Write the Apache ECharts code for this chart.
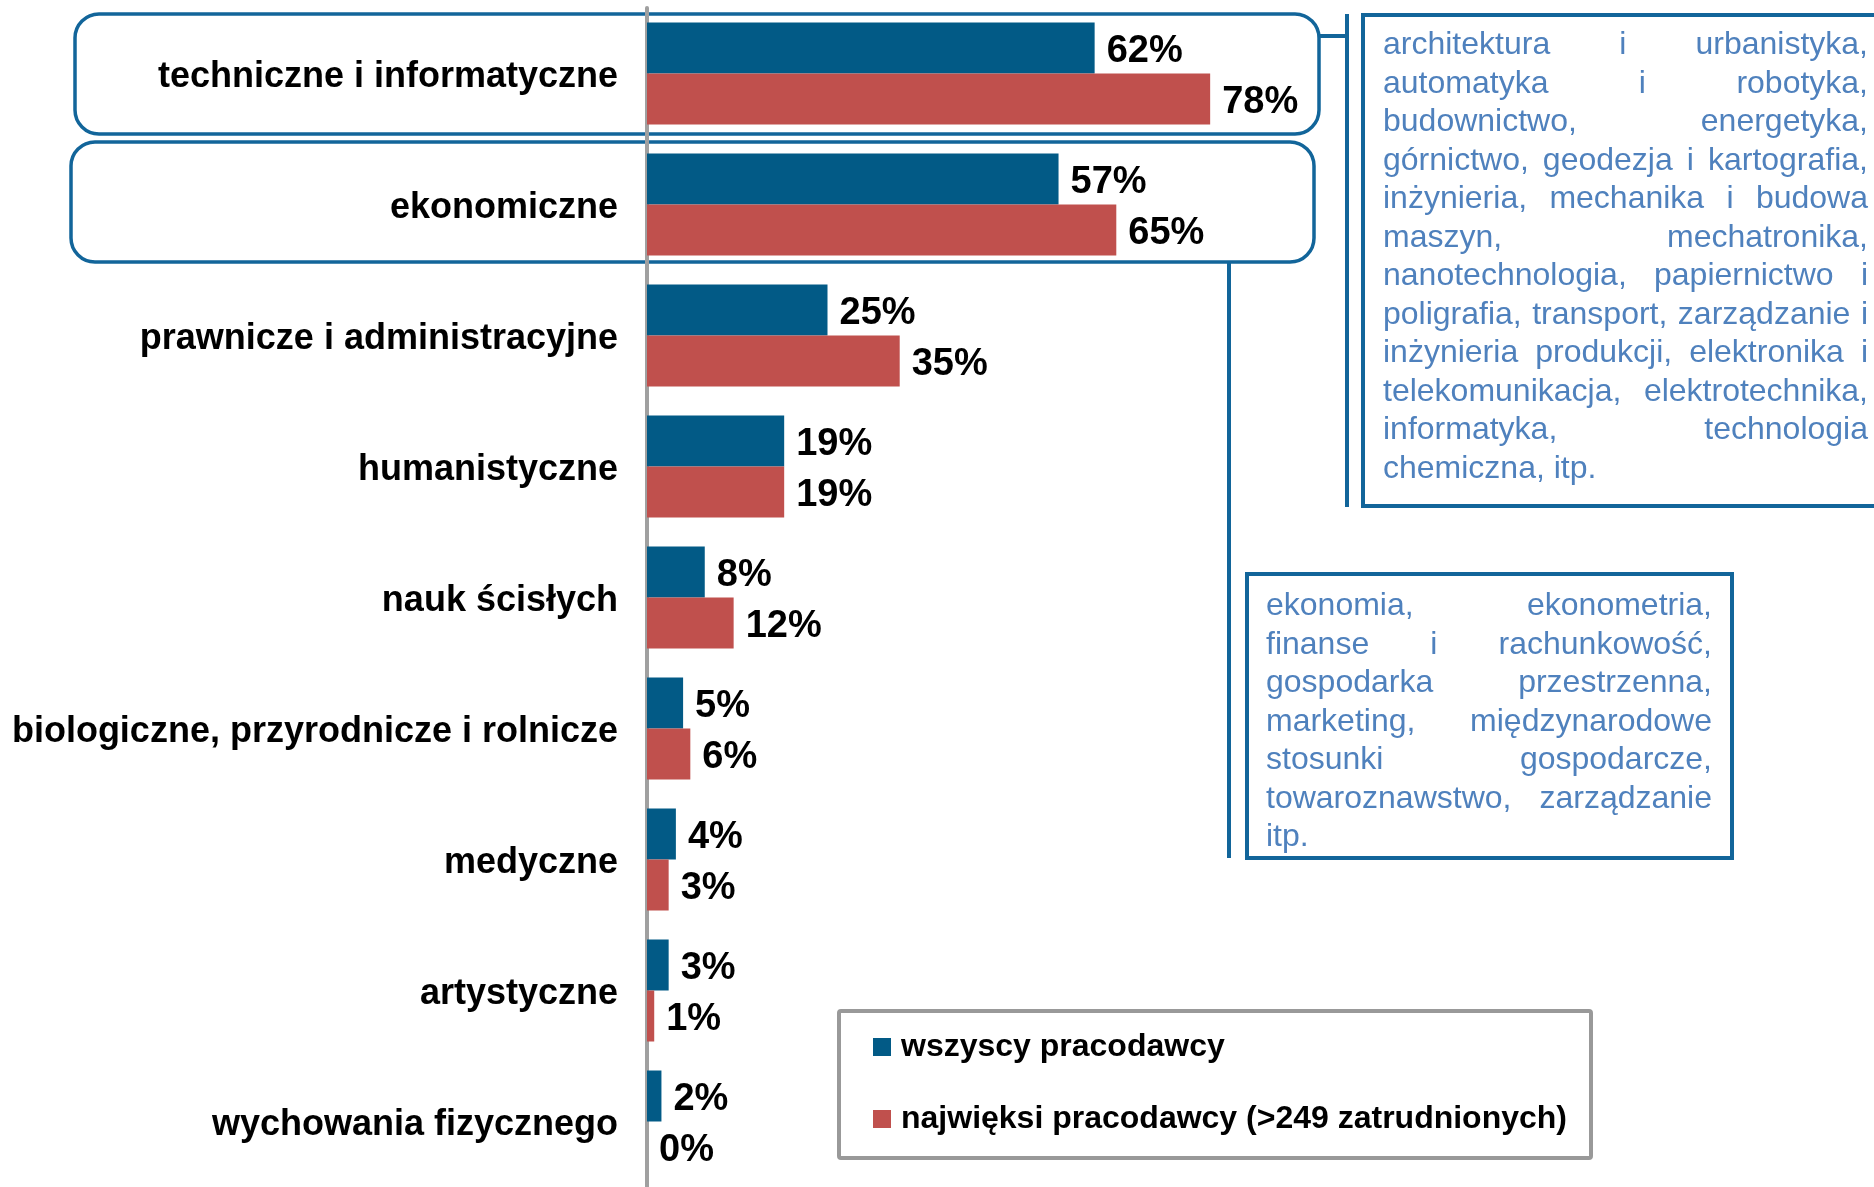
<!DOCTYPE html>
<html>
<head>
<meta charset="utf-8">
<script src="https://cdn.jsdelivr.net/npm/echarts@6/dist/echarts.min.js"></script>
<style>
  html, body { margin: 0; padding: 0; background: #fff; }
  #chart { width: 1874px; height: 1187px; }
</style>
</head>
<body>
<div id="chart"></div>
<script>
// kierunki studiów
const categories = [
    'techniczne i informatyczne',
    'ekonomiczne',
    'prawnicze i administracyjne',
    'humanistyczne',
    'nauk ścisłych',
    'biologiczne, przyrodnicze i rolnicze',
    'medyczne',
    'artystyczne',
    'wychowania fizycznego'
];
const allEmployers = [62, 57, 25, 19, 8, 5, 4, 3, 2];
const largestEmployers = [78, 65, 35, 19, 12, 6, 3, 1, 0];
const seriesNames = ['wszyscy pracodawcy', 'najwięksi pracodawcy (>249 zatrudnionych)'];

// teksty w ramkach z objaśnieniami
const techNote = [
    'architektura i urbanistyka,',
    'automatyka i robotyka,',
    'budownictwo, energetyka,',
    'górnictwo, geodezja i kartografia,',
    'inżynieria, mechanika i budowa',
    'maszyn, mechatronika,',
    'nanotechnologia, papiernictwo i',
    'poligrafia, transport, zarządzanie i',
    'inżynieria produkcji, elektronika i',
    'telekomunikacja, elektrotechnika,',
    'informatyka, technologia',
    'chemiczna, itp.'
];
const econNote = [
    'ekonomia, ekonometria,',
    'finanse i rachunkowość,',
    'gospodarka przestrzenna,',
    'marketing, międzynarodowe',
    'stosunki gospodarcze,',
    'towaroznawstwo, zarządzanie',
    'itp.'
];

const FONT = '"Liberation Sans", Arial, sans-serif';
const BOX = '#12659a';
const NOTE_TEXT = '#4f81bd';

const measure = document.createElement('canvas').getContext('2d');

// wyjustowany akapit - każde słowo osobno, odstępy rozłożone równo
function justified(lines, left, right, top, lineH, size) {
    const font = size + 'px ' + FONT;
    measure.font = font;
    const out = [];
    lines.forEach((line, i) => {
        const y = top + i * lineH;
        const words = line.split(' ');
        if (i === lines.length - 1 || words.length < 2) {
            out.push({ type: 'text', z: 5, style: { text: line, x: left, y: y, font: font, fill: NOTE_TEXT, align: 'left', verticalAlign: 'middle' } });
            return;
        }
        const widths = words.map(w => measure.measureText(w).width);
        const sum = widths.reduce((a, b) => a + b, 0);
        const gap = (right - left - sum) / (words.length - 1);
        let x = left;
        words.forEach((w, k) => {
            out.push({ type: 'text', z: 5, style: { text: w, x: x, y: y, font: font, fill: NOTE_TEXT, align: 'left', verticalAlign: 'middle' } });
            x += widths[k] + gap;
        });
    });
    return out;
}

const chart = echarts.init(document.getElementById('chart'));

const graphics = [
    // ramki wokół dwóch pierwszych kategorii
    { type: 'rect', z: 0, shape: { x: 75, y: 14, width: 1244, height: 120, r: 24 }, style: { fill: 'none', stroke: BOX, lineWidth: 3.5 } },
    { type: 'rect', z: 0, shape: { x: 71, y: 142, width: 1243, height: 120, r: 24 }, style: { fill: 'none', stroke: BOX, lineWidth: 3.5 } },
    // łączniki
    { type: 'line', z: 0, shape: { x1: 1319, y1: 36, x2: 1347, y2: 36 }, style: { stroke: BOX, lineWidth: 4 } },
    { type: 'line', z: 0, shape: { x1: 1347, y1: 14, x2: 1347, y2: 507 }, style: { stroke: BOX, lineWidth: 4 } },
    { type: 'line', z: 0, shape: { x1: 1229, y1: 262, x2: 1229, y2: 858 }, style: { stroke: BOX, lineWidth: 4 } },
    // ramki z opisem
    { type: 'rect', z: 0, shape: { x: 1363, y: 15, width: 530, height: 491 }, style: { fill: '#fff', stroke: BOX, lineWidth: 4 } },
    { type: 'rect', z: 0, shape: { x: 1247, y: 574, width: 485, height: 284 }, style: { fill: '#fff', stroke: BOX, lineWidth: 4 } },
    // ramka legendy
    { type: 'rect', z: 0, shape: { x: 839, y: 1011, width: 752, height: 147, r: 2 }, style: { fill: '#fff', stroke: '#999999', lineWidth: 4 } }
].concat(
    justified(techNote, 1383, 1868, 45.5, 38.5, 32),
    justified(econNote, 1266, 1712, 606.5, 38.5, 32)
);

const valueLabel = {
    show: true,
    position: 'right',
    distance: 12,
    offset: [0, 4],
    formatter: '{c}%',
    fontFamily: FONT,
    fontWeight: 'bold',
    fontSize: 38,
    color: '#000'
};

const option = {
    animation: false,
    grid: {
        left: 647,
        right: 505,
        top: 8,
        height: 1181
    },
    legend: {
        orient: 'vertical',
        left: 873,
        top: 1031,
        itemWidth: 18,
        itemHeight: 18,
        itemGap: 40,
        icon: 'rect',
        padding: 0,
        textStyle: {
            fontFamily: FONT,
            fontWeight: 'bold',
            fontSize: 32,
            lineHeight: 30,
            color: '#000',
            padding: [0, 0, 0, 5]
        },
        data: seriesNames
    },
    xAxis: {
        type: 'value',
        min: 0,
        max: 100,
        show: false
    },
    yAxis: {
        type: 'category',
        inverse: true,
        data: categories,
        offset: 2,
        axisTick: { show: false },
        axisLine: {
            lineStyle: { color: '#a0a0a0', width: 4 }
        },
        axisLabel: {
            margin: 27,
            formatter: v => '{c|' + v + '}',
            rich: {
                c: {
                    fontFamily: FONT,
                    fontWeight: 'bold',
                    fontSize: 36,
                    color: '#000',
                    padding: [7, 0, 0, 0]
                }
            }
        },
        splitLine: { show: false }
    },
    series: [{
        name: seriesNames[0],
        type: 'bar',
        barWidth: 51,
        barGap: '0%',
        itemStyle: { color: '#025a86' },
        label: valueLabel,
        data: allEmployers
    }, {
        name: seriesNames[1],
        type: 'bar',
        barWidth: 51,
        barGap: '0%',
        itemStyle: { color: '#c0504d' },
        label: valueLabel,
        data: largestEmployers
    }],
    graphic: graphics
};

chart.setOption(option);
</script>
</body>
</html>
